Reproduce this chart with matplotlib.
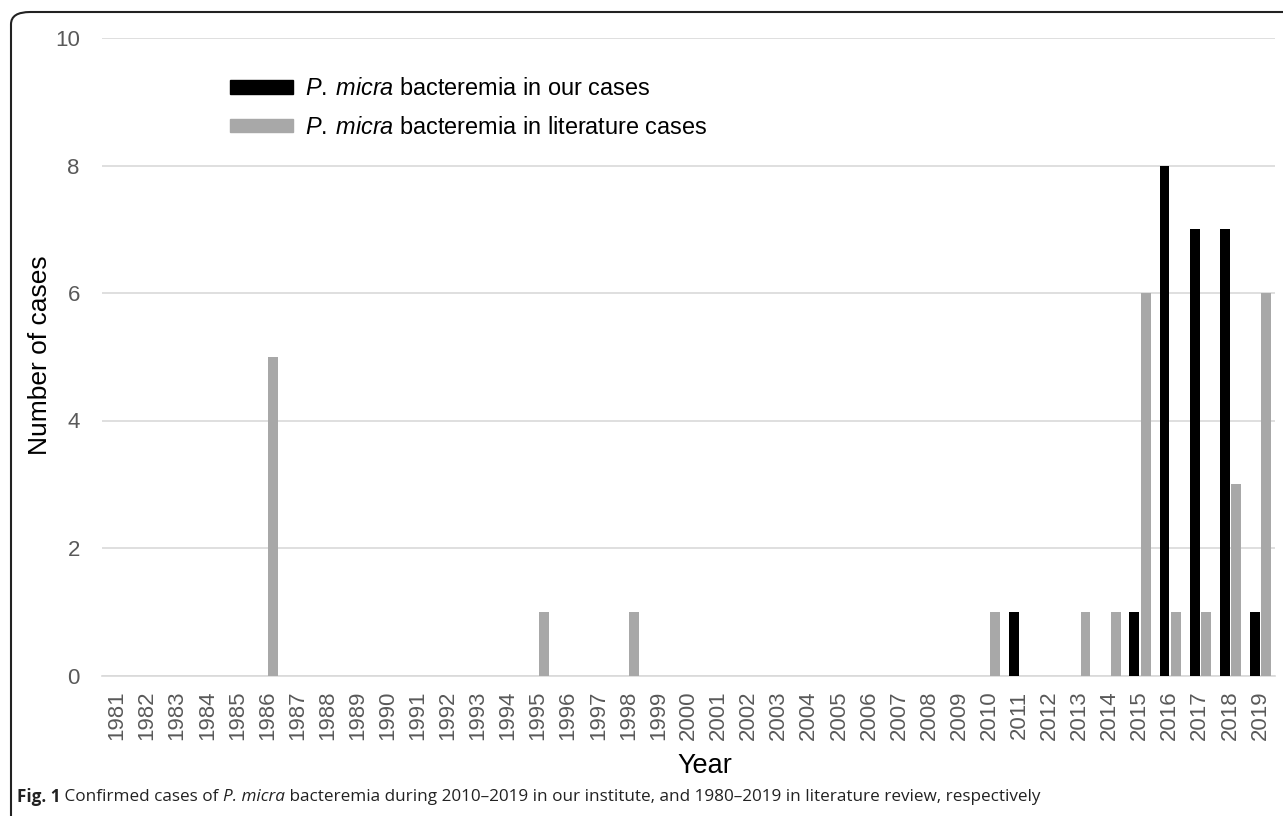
import matplotlib
matplotlib.use("Agg")
import matplotlib.pyplot as plt
import numpy as np
from matplotlib.patches import FancyBboxPatch, Patch

# data
years = list(range(1981, 2020))
our_years = [2011, 2015, 2016, 2017, 2018, 2019]
our_counts = [1, 1, 8, 7, 7, 1]
lit_years = [1986, 1995, 1998, 2010, 2013, 2014, 2015, 2016, 2017, 2018, 2019]
lit_counts = [5, 1, 1, 1, 1, 1, 6, 1, 1, 3, 6]

our = [our_counts[our_years.index(y)] if y in our_years else 0 for y in years]
lit = [lit_counts[lit_years.index(y)] if y in lit_years else 0 for y in years]

plt.rcParams['font.family'] = ['Liberation Sans', 'DejaVu Sans']
plt.rcParams['mathtext.fontset'] = 'custom'
plt.rcParams['mathtext.rm'] = 'Liberation Sans'
plt.rcParams['mathtext.it'] = 'Liberation Sans:italic'
plt.rcParams['mathtext.bf'] = 'Liberation Sans:bold'

W, H = 1283, 816
fig = plt.figure(figsize=(W / 100, H / 100), dpi=100)
ax = fig.add_axes([102 / W, 1 - 675.5 / H, (1275 - 102) / W, (675.5 - 38) / H])

x = np.arange(len(years))
bw = 0.33
ax.bar(x - 0.175, our, width=bw, color='#000000', zorder=3)
ax.bar(x + 0.2, lit, width=bw, color='#a8a8a8', zorder=3)

ax.set_xlim(-0.5, len(years) - 0.5)
ax.set_ylim(0, 10)
ax.set_yticks([0, 2, 4, 6, 8, 10])
ax.set_xticks(x)
ax.set_xticklabels([str(y) for y in years], rotation=90)
ax.tick_params(axis='both', length=0, labelsize=16, colors='#595959')
ax.tick_params(axis='x', pad=11)
ax.tick_params(axis='y', pad=16)
ax.grid(axis='y', color='#d9d9d9', linewidth=1.2, zorder=0)
for s in ['top', 'right', 'left']:
    ax.spines[s].set_visible(False)
ax.spines['bottom'].set_color('#d9d9d9')
ax.spines['bottom'].set_linewidth(1.2)

fig.text(40 / W, 1 - 355 / H, 'Number of cases', rotation=90, fontsize=19,
         ha='center', va='center', color='black')
fig.text(705 / W, 1 - 766 / H, 'Year', fontsize=19.5, ha='center', va='center', color='black')

handles = [Patch(color='#000000'), Patch(color='#a8a8a8')]
labels = [r'$\mathit{P.\:micra}$ bacteremia in our cases',
          r'$\mathit{P.\:micra}$ bacteremia in literature cases']
leg = ax.legend(handles, labels, loc='upper left', bbox_to_anchor=(230 / W, 1 - 77 / H),
                bbox_transform=fig.transFigure, frameon=False, fontsize=16.9,
                handlelength=2.68, handleheight=0.52, handletextpad=0.52,
                labelspacing=0.68, borderpad=0, borderaxespad=0)

# caption built from pieces
renderer = fig.canvas.get_renderer()
cap_font = ['Open Sans', 'DejaVu Sans']
pieces = [('Fig. 1', 'bold', 'normal'),
          (' Confirmed cases of ', 'normal', 'normal'),
          ('P. micra', 'normal', 'italic'),
          (' bacteremia during 2010\u20132019 in our institute, and 1980\u20132019 in literature review, respectively',
           'normal', 'normal')]
cx = 17
for txt, wt, st in pieces:
    t = fig.text(cx / W, 1 - 797 / H, txt, fontsize=12.35, fontweight=wt, fontstyle=st,
                 family=cap_font, ha='left', va='center', color='#222222')
    bb = t.get_window_extent(renderer)
    cx += bb.width

# rounded frame around the whole figure
frame = FancyBboxPatch((11 / W, -20 / H), (W + 20) / W, (H + 20 - 12) / H,
                       boxstyle='round,pad=0,rounding_size=0.015',
                       transform=fig.transFigure, fill=False, edgecolor='#222222',
                       linewidth=1.5)
fig.patches.append(frame)

fig.savefig('out.png', dpi=100)
